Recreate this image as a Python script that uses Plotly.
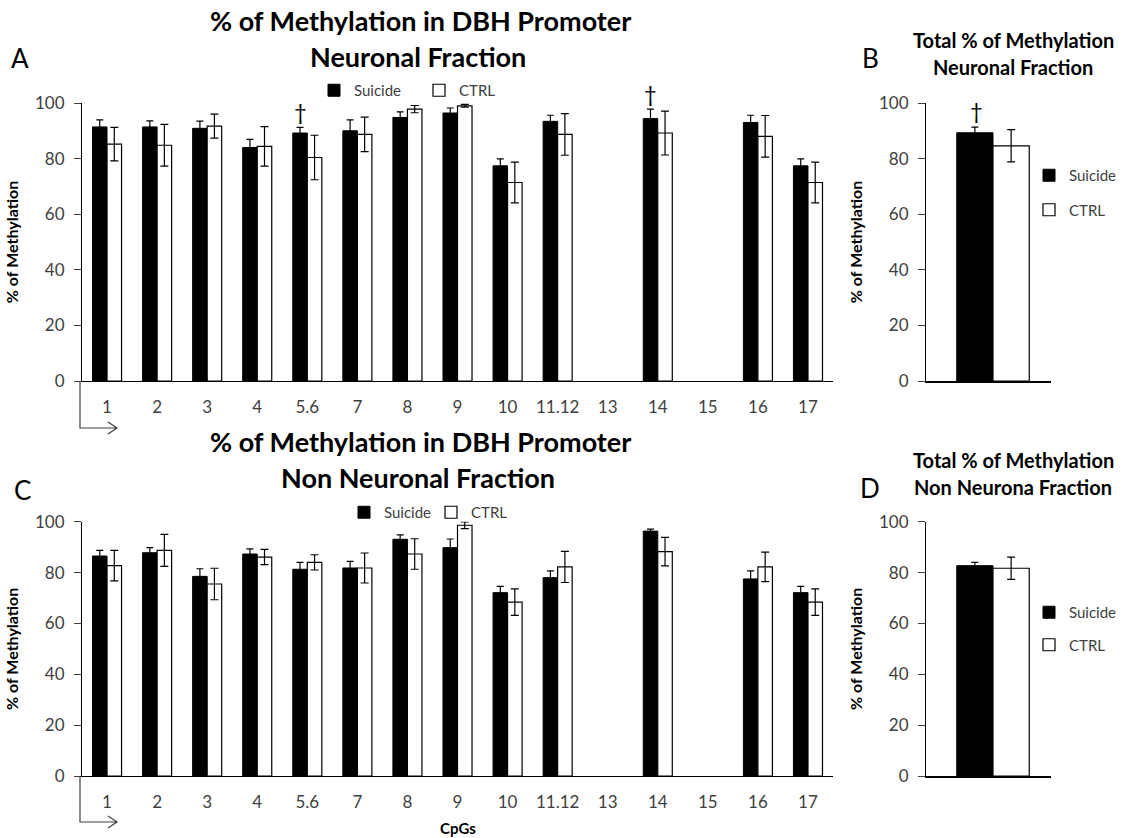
import plotly.graph_objects as go

W, H = 1128, 838

# ---------------- data ----------------
cpgs = ["1", "2", "3", "4", "5.6", "7", "8", "9", "10", "11.12", "13", "14", "15", "16", "17"]

# Panel A: Neuronal fraction
a_suicide = [91.4, 91.4, 90.9, 84.0, 89.2, 90.0, 94.8, 96.4, 77.4, 93.4, None, 94.4, None, 93.0, 77.4]
a_suicide_err = [2.5, 2.2, 2.6, 2.9, 2.0, 3.9, 2.0, 1.8, 2.5, 2.2, None, 3.4, None, 2.6, 2.5]
a_ctrl = [85.2, 84.8, 91.7, 84.4, 80.4, 88.7, 97.8, 99.0, 71.4, 88.7, None, 89.2, None, 88.0, 71.4]
a_ctrl_err = [6.0, 7.5, 4.3, 7.1, 8.0, 6.2, 1.3, 0.5, 7.3, 7.5, None, 7.9, None, 7.5, 7.3]
a_dagger = ["5.6", "14"]

# Panel C: Non neuronal fraction
c_suicide = [86.5, 87.8, 78.5, 87.3, 81.3, 81.8, 93.1, 89.8, 72.1, 78.0, None, 96.3, None, 77.5, 72.1]
c_suicide_err = [2.2, 2.0, 3.0, 2.0, 2.7, 2.6, 1.7, 3.4, 2.5, 2.7, None, 0.8, None, 3.2, 2.5]
c_ctrl = [82.7, 88.7, 75.5, 86.1, 84.0, 81.8, 87.3, 98.6, 68.4, 82.2, None, 88.2, None, 82.2, 68.4]
c_ctrl_err = [6.0, 6.3, 6.2, 3.0, 3.0, 5.9, 6.0, 1.3, 5.2, 6.1, None, 5.6, None, 5.8, 5.2]

# Panel B / D: totals
total_cat = ["Total"]
b_suicide, b_suicide_err = [89.3], [2.0]
b_ctrl, b_ctrl_err = [84.6], [5.8]
d_suicide, d_suicide_err = [82.7], [1.3]
d_ctrl, d_ctrl_err = [81.7], [4.4]

y_ticks = [0, 20, 40, 60, 80, 100]

# ---------------- helpers ----------------
def px(x):
    return x / W

def py(y):
    return 1 - y / H

FONT = "Lato, 'Open Sans', sans-serif"
TICKC = "#404040"

fig = go.Figure()

def add_pair(xa, ya, cats, s, se, c, ce, legend, group=None):
    fig.add_trace(go.Bar(
        x=cats, y=s, name="Suicide", xaxis=xa, yaxis=ya,
        marker=dict(color="black", line=dict(color="black", width=1)),
        error_y=dict(type="data", array=se, color="black", thickness=1.2, width=3.5),
        legend=legend, showlegend=True,
        legendgroup=(group + "_s") if group else None))
    fig.add_trace(go.Bar(
        x=cats, y=c, name="CTRL", xaxis=xa, yaxis=ya,
        marker=dict(color="white", line=dict(color="black", width=1.2)),
        error_y=dict(type="data", array=ce, color="black", thickness=1.2, width=4),
        legend=legend, showlegend=True,
        legendgroup=(group + "_c") if group else None))

add_pair("x", "y", cpgs, a_suicide, a_suicide_err, a_ctrl, a_ctrl_err, "legend")
add_pair("x2", "y2", total_cat, b_suicide, b_suicide_err, b_ctrl, b_ctrl_err, "legend2", "b")
add_pair("x3", "y3", cpgs, c_suicide, c_suicide_err, c_ctrl, c_ctrl_err, "legend3")
add_pair("x4", "y4", total_cat, d_suicide, d_suicide_err, d_ctrl, d_ctrl_err, "legend4", "d")

# domains (pixel geometry -> paper)
dom_x_main = [px(82), px(833)]
dom_x_tot = [px(926), px(1051)]
dom_y_top = [py(381), py(103)]
dom_y_bot = [py(776), py(521.7)]

def xax(**kw):
    d = dict(type="category", showline=True, linecolor="black", linewidth=1.3,
             ticks="", tickfont=dict(family=FONT, size=17, color=TICKC),
             showgrid=False, zeroline=False, fixedrange=True, automargin=False)
    d.update(kw)
    return d

def yax(**kw):
    d = dict(range=[0, 100], tickvals=y_ticks, showline=True, linecolor="black",
             linewidth=1.2, ticks="outside", ticklen=7, tickcolor="#404040",
             tickfont=dict(family=FONT, size=17, color=TICKC), showgrid=False,
             zeroline=False, ticklabelstandoff=6, automargin=False, fixedrange=True,
             title=dict(text="<b>% of Methylation</b>", font=dict(family=FONT, size=16, color="black"), standoff=12))
    d.update(kw)
    return d

legfont = dict(family=FONT, size=15, color=TICKC)

fig.update_layout(
    width=W, height=H, margin=dict(l=0, r=0, t=0, b=0, autoexpand=False),
    paper_bgcolor="white", plot_bgcolor="white",
    barmode="group", bargap=0.42, bargroupgap=0,
    font=dict(family=FONT, color="black"),
    xaxis=xax(domain=dom_x_main, anchor="y", ticklabelstandoff=10),
    yaxis=yax(domain=dom_y_top, anchor="x"),
    xaxis2=xax(domain=dom_x_tot, anchor="y2", showticklabels=False, range=[-0.536, 0.464], linewidth=2),
    yaxis2=yax(domain=dom_y_top, anchor="x2"),
    xaxis3=xax(domain=dom_x_main, anchor="y3", ticklabelstandoff=10),
    yaxis3=yax(domain=dom_y_bot, anchor="x3"),
    xaxis4=xax(domain=dom_x_tot, anchor="y4", showticklabels=False, range=[-0.536, 0.464], linewidth=2),
    yaxis4=yax(domain=dom_y_bot, anchor="x4"),
    legend=dict(orientation="h", x=px(314), y=py(74), xanchor="left", yanchor="top",
                font=legfont, bgcolor="rgba(0,0,0,0)", itemwidth=30, entrywidth=60),
    legend2=dict(orientation="v", x=px(1029), y=py(159), xanchor="left", yanchor="top",
                 font=legfont, bgcolor="rgba(0,0,0,0)", itemwidth=30, tracegroupgap=12),
    legend3=dict(orientation="h", x=px(344), y=py(496), xanchor="left", yanchor="top",
                 font=legfont, bgcolor="rgba(0,0,0,0)", itemwidth=30, entrywidth=42),
    legend4=dict(orientation="v", x=px(1029), y=py(596), xanchor="left", yanchor="top",
                 font=legfont, bgcolor="rgba(0,0,0,0)", itemwidth=30, tracegroupgap=10),
)

# ---------------- titles & panel letters ----------------
ann = []
def text_at(text, x, y, size, bold=True):
    ann.append(dict(text=("<b>" + text + "</b>") if bold else text, x=px(x), y=py(y),
                    xref="paper", yref="paper", showarrow=False, xanchor="center", yanchor="middle",
                    font=dict(family=FONT, size=size, color="black")))

text_at("% of Methylation in DBH Promoter", 420, 20, 27)
text_at("Neuronal Fraction", 418, 56, 27)
text_at("% of Methylation in DBH Promoter", 420, 442, 27)
text_at("Non Neuronal Fraction", 418, 478, 27)
text_at("Total % of Methylation", 1013, 40, 20)
text_at("Neuronal Fraction", 1013, 67, 20)
text_at("Total % of Methylation", 1013, 460, 20)
text_at("Non Neurona Fraction", 1013, 487, 20)
text_at("CpGs", 458, 828, 15)

for letter, x, y in [("A", 20, 58), ("B", 870, 58), ("C", 22, 490), ("D", 870, 488)]:
    text_at(letter, x, y, 26, bold=False)

# daggers above significant Suicide bars (category axis -> index position)
for cat in a_dagger:
    i = cpgs.index(cat)
    ann.append(dict(text="†", x=i, y=a_suicide[i] + a_suicide_err[i], xref="x", yref="y",
                    showarrow=False, xshift=-7, yanchor="bottom", yshift=0,
                    font=dict(family=FONT, size=22, color="black")))
ann.append(dict(text="†", x=0, y=b_suicide[0] + b_suicide_err[0], xref="x2", yref="y2",
                showarrow=False, xshift=-17, yanchor="bottom", yshift=1,
                font=dict(family=FONT, size=22, color="black")))
fig.update_layout(annotations=ann)

# ---------------- promoter direction arrows ----------------
def arrow_path(y_axis, y_end):
    x0 = 80
    return (f"M {px(x0)},{py(y_axis)} L {px(x0)},{py(y_end)} L {px(117)},{py(y_end)} "
            f"M {px(108)},{py(y_end - 6)} L {px(117)},{py(y_end)} L {px(108)},{py(y_end + 6)}")

shapes = []
for ya, ye in [(381, 428), (776, 822)]:
    shapes.append(dict(type="path", path=arrow_path(ya, ye), xref="paper", yref="paper",
                       line=dict(color="#404040", width=1.2)))
fig.update_layout(shapes=shapes)

fig.write_html("out.html", config={"displayModeBar": False},
               post_script="document.body.style.margin='0';document.body.style.overflow='hidden';")
